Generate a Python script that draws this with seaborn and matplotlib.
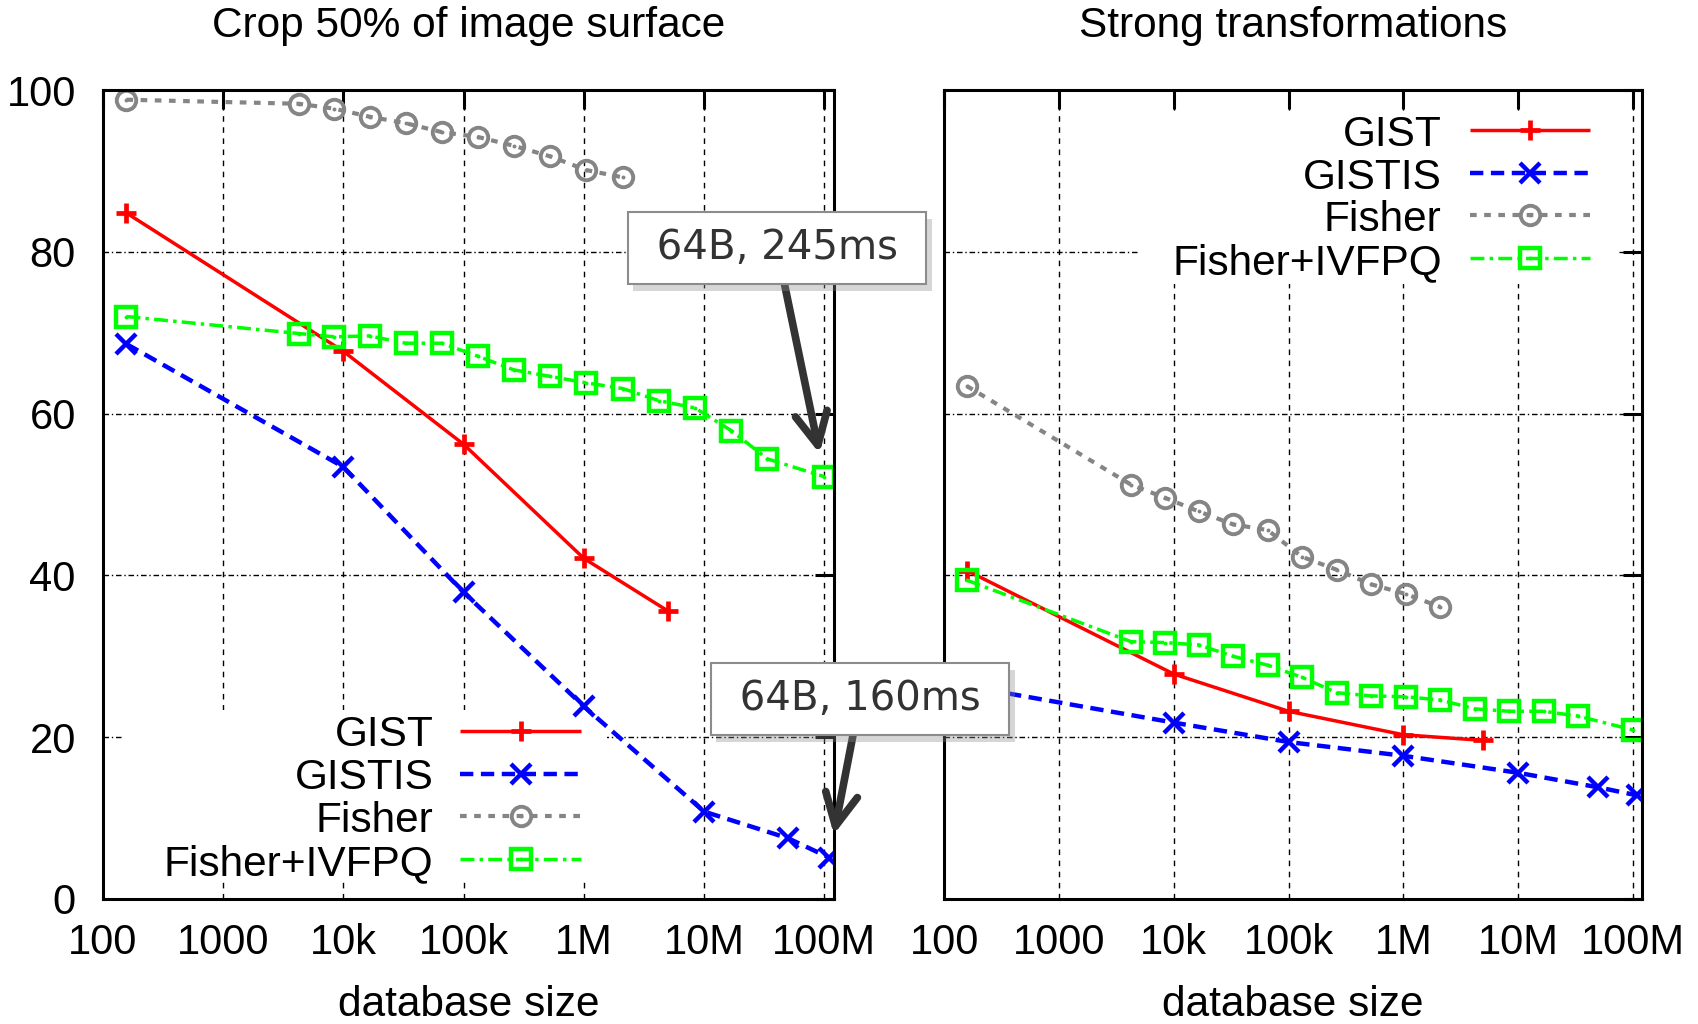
import matplotlib
matplotlib.use("Agg")
import matplotlib.pyplot as plt
from matplotlib.lines import Line2D
from matplotlib.patches import Rectangle
from matplotlib.ticker import FixedLocator, FixedFormatter, NullLocator
from matplotlib import patheffects
import pandas as pd
import seaborn as sns

# ---- database sizes (number of images) ----
sizes_gist = [157, 1e4, 1e5, 1e6, 5e6]
sizes_gistis = [157, 1e4, 1e5, 1e6, 1e7, 5e7, 1.1e8]
sizes_fisher = [157, 4.25e3, 8.35e3, 16.5e3, 32.9e3, 65.7e3, 131e3, 262e3, 524e3, 1.05e6, 2.1e6]
sizes_ivfpq = [157, 4.25e3, 8.35e3, 16.5e3, 32.9e3, 65.7e3, 131e3, 262e3, 524e3, 1.05e6, 2.1e6,
               4.2e6, 8.4e6, 16.8e6, 33.6e6, 1e8]

# ---- recall (%) : crop 50% of image surface ----
crop_gist = [84.8, 67.7, 56.2, 42.1, 35.6]
crop_gistis = [68.6, 53.4, 37.9, 23.8, 10.8, 7.5, 5.1]
crop_fisher = [98.8, 98.3, 97.7, 96.7, 95.9, 94.8, 94.2, 93.1, 91.8, 90.1, 89.2]
crop_ivfpq = [72.0, 69.9, 69.5, 69.6, 68.7, 68.7, 67.1, 65.4, 64.6, 63.8, 63.1, 61.6, 60.7,
              57.9, 54.4, 52.2]

# ---- recall (%) : strong transformations ----
strong_gist = [40.6, 27.8, 23.2, 20.3, 19.6]
strong_gistis = [26.3, 21.8, 19.4, 17.7, 15.6, 13.8, 12.8]
strong_fisher = [63.4, 51.2, 49.6, 47.9, 46.3, 45.6, 42.3, 40.7, 38.9, 37.7, 36.1]
strong_ivfpq = [39.4, 31.8, 31.7, 31.4, 30.0, 28.9, 27.4, 25.5, 25.1, 25.0, 24.6, 23.5, 23.2,
                23.2, 22.6, 20.9]

series_names = ["GIST", "GISTIS", "Fisher", "Fisher+IVFPQ"]
panel_titles = ["Crop 50% of image surface", "Strong transformations"]
xtick_values = [1e2, 1e3, 1e4, 1e5, 1e6, 1e7, 1e8]
xtick_labels = ["100", "1000", "10k", "100k", "1M", "10M", "100M"]
ytick_values = [0, 20, 40, 60, 80, 100]

sns.set_theme(style="white")
plt.rcParams["font.family"] = ["Liberation Sans", "DejaVu Sans"]
plt.rcParams["lines.solid_capstyle"] = "butt"
plt.rcParams["lines.dash_capstyle"] = "butt"

STYLES = {
    "GIST": dict(color="#ff0000", linestyle="-", lw=2.5, marker="+", ms=15, mew=3.4,
                 mfc="none", dot=False),
    "GISTIS": dict(color="#0000ff", linestyle=(0, (3.0, 1.7)), lw=3.2, marker="x", ms=15,
                   mew=3.2, mfc="none", dot=False),
    "Fisher": dict(color="#858585", linestyle=(0, (1.6, 1.8)), lw=3.0, marker="o", ms=14,
                   mew=2.8, mfc="none", dot=True),
    "Fisher+IVFPQ": dict(color="#00ff00", linestyle=(0, (4.0, 1.5, 1.0, 1.5)), lw=2.5,
                         marker="s", ms=15, mew=3.2, mfc="none", dot=True),
}

fig = plt.figure(figsize=(16.98, 10.24), dpi=100)
ax1 = fig.add_axes([0.0606, 0.1221, 0.4305, 0.7900])
ax2 = fig.add_axes([0.5562, 0.1221, 0.4107, 0.7900])
ax1.set_zorder(3)
ax2.set_zorder(1)


def draw_series(ax, name, xs, ys):
    st = STYLES[name]
    df = pd.DataFrame({"size": xs, "recall": ys})
    sns.lineplot(data=df, x="size", y="recall", ax=ax, color=st["color"],
                 linestyle=st["linestyle"], lw=st["lw"], marker=st["marker"],
                 markersize=st["ms"], markeredgewidth=st["mew"],
                 markeredgecolor=st["color"], markerfacecolor=st["mfc"],
                 estimator=None, sort=False, zorder=3)
    if st["dot"]:
        sns.scatterplot(data=df, x="size", y="recall", ax=ax, color=st["color"],
                        s=8, linewidth=0, zorder=4)


def draw_key(ax, x_text, x0, x1, ys):
    for name, y in zip(series_names, ys):
        st = STYLES[name]
        ax.text(x_text, y, name, transform=ax.transAxes, ha="right",
                va="center_baseline", fontsize=30.5, color="black", zorder=5)
        ax.add_artist(Line2D([x0, x1], [y, y], transform=ax.transAxes, color=st["color"],
                             linestyle=st["linestyle"], lw=st["lw"], zorder=5))
        xm = (x0 + x1) / 2
        ax.add_artist(Line2D([xm], [y], transform=ax.transAxes, color=st["color"],
                             linestyle="none", marker=st["marker"], ms=st["ms"],
                             mew=st["mew"], mec=st["color"], mfc=st["mfc"], zorder=6))
        if st["dot"]:
            ax.add_artist(Line2D([xm], [y], transform=ax.transAxes, color=st["color"],
                                 linestyle="none", marker="o", ms=2.8, mew=0, zorder=6))


panels = [
    (ax1, [crop_gist, crop_gistis, crop_fisher, crop_ivfpq]),
    (ax2, [strong_gist, strong_gistis, strong_fisher, strong_ivfpq]),
]
all_sizes = [sizes_gist, sizes_gistis, sizes_fisher, sizes_ivfpq]

for (ax, values), title in zip(panels, panel_titles):
    ax.set_xscale("log")
    for name, xs, ys in zip(series_names, all_sizes, values):
        draw_series(ax, name, xs, ys)
    ax.set_xlim(100, 1.2e8)
    ax.set_ylim(0, 100)
    ax.xaxis.set_major_locator(FixedLocator(xtick_values))
    ax.xaxis.set_major_formatter(FixedFormatter(xtick_labels))
    ax.xaxis.set_minor_locator(NullLocator())
    ax.yaxis.set_major_locator(FixedLocator(ytick_values))
    ax.yaxis.set_minor_locator(NullLocator())
    ax.set_axisbelow(True)
    ax.xaxis.grid(True, color="black", lw=1.0, linestyle=(0, (4, 4)))
    ax.yaxis.grid(True, color="black", lw=1.0, linestyle=(0, (4, 2, 1, 2)))
    ax.tick_params(axis="both", which="major", direction="in", length=14, width=2.2,
                   color="black", top=True, right=True, labelsize=30, labelcolor="black")
    ax.tick_params(axis="x", pad=17)
    ax.tick_params(axis="y", pad=19.5)
    for sp in ax.spines.values():
        sp.set_visible(True)
        sp.set_color("black")
        sp.set_linewidth(2.2)
        sp.set_zorder(7)
    ax.set_title(title, fontsize=30.5, pad=38, color="black")
    ax.set_xlabel("database size", fontsize=30.5, labelpad=16, color="black")
    ax.set_ylabel("")

ax2.tick_params(axis="y", labelleft=False)

# opaque key areas (hide the grid behind the keys)
ax1.add_patch(Rectangle((0.028, 0.026), 0.69 - 0.028, 0.233 - 0.026, transform=ax1.transAxes,
                        facecolor="white", edgecolor="none", zorder=0.8))
ax2.add_patch(Rectangle((0.278, 0.76), 0.965 - 0.278, 0.97 - 0.76, transform=ax2.transAxes,
                        facecolor="white", edgecolor="none", zorder=0.8))
draw_key(ax1, 0.452, 0.489, 0.654, [0.208, 0.155, 0.102, 0.049])
draw_key(ax2, 0.713, 0.753, 0.926, [0.950, 0.897, 0.845, 0.792])

# callouts for the 64-byte operating points
box_style = dict(boxstyle="square,pad=0.4", fc="white", ec="#8c8c8c", lw=1.5)
arrow_style = dict(arrowstyle="->,head_length=0.8,head_width=0.4", color="#333333", lw=5.5,
                   shrinkA=0, shrinkB=17)
for label, xs, ys, pos in [
    (" 64B, 245ms ", sizes_ivfpq, crop_ivfpq, (777, 1024 - 248)),
    (" 64B, 160ms ", sizes_gistis, crop_gistis, (860, 1024 - 699)),
]:
    ann = ax1.annotate(label, xy=(xs[-1], ys[-1]), xycoords="data", xytext=pos,
                       textcoords="figure pixels", ha="center", va="center",
                       fontsize=29, color="#333333", family="DejaVu Sans",
                       bbox=box_style, arrowprops=arrow_style, annotation_clip=False,
                       zorder=10)
    ann.get_bbox_patch().set_path_effects([
        patheffects.SimplePatchShadow(offset=(4, -5), shadow_rgbFace="0.55", alpha=0.35),
        patheffects.Normal(),
    ])

fig.savefig("out.png", dpi=100)
